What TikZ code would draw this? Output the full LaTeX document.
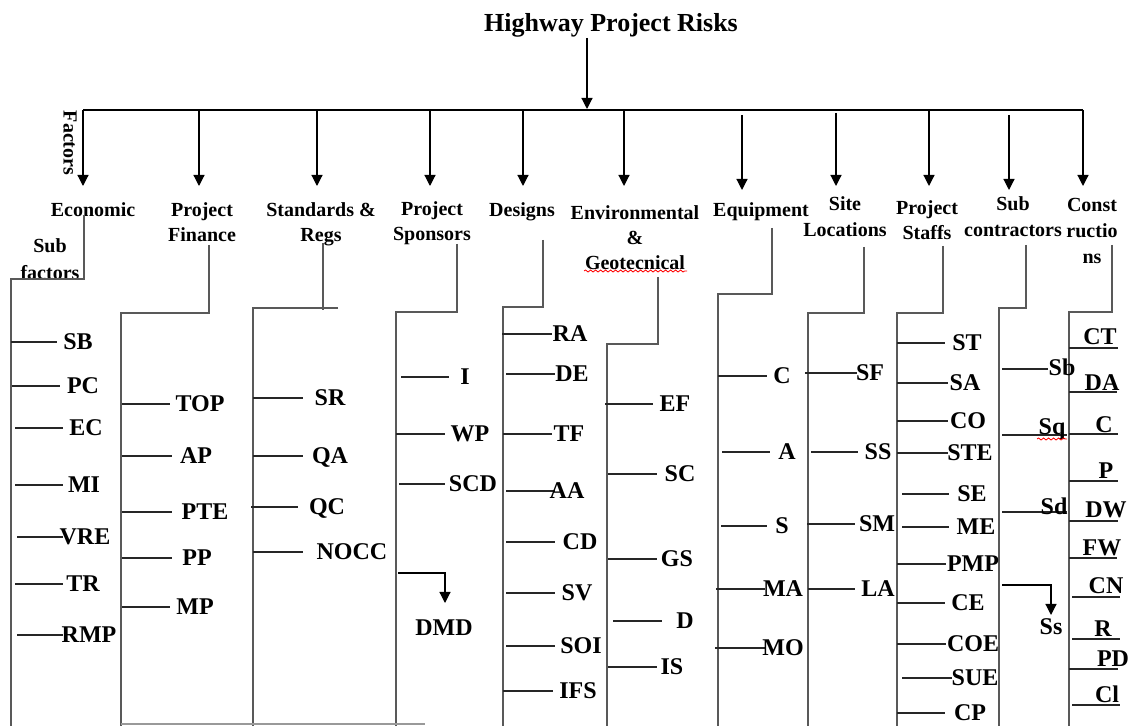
\documentclass[tikz,border=0pt]{standalone}
\usepackage{fontspec}
\setmainfont{Liberation Serif}
\usetikzlibrary{arrows.meta,decorations.pathmorphing}

\begin{document}
\begin{tikzpicture}[x=0.5pt,y=-0.5pt,line width=0.6pt,>={Triangle[width=5.5pt,length=5.5pt]},
  ttl/.style={font=\fontsize{13}{15}\selectfont\bfseries,inner sep=0pt,text height=8.6pt,text depth=0pt},
  fac/.style={font=\fontsize{10}{12.5}\selectfont\bfseries,align=center,anchor=north,inner sep=0pt},
  itm/.style={font=\fontsize{12}{14}\selectfont\bfseries,inner sep=0pt,text height=7.9pt,text depth=0pt},
  trunk/.style={draw=black!65,line width=0.7pt},
  stub/.style={draw=black!85},
  wavy/.style={red,line width=0.4pt,decorate,decoration={snake,amplitude=0.5pt,segment length=2.5pt}}]
  \useasboundingbox (0,0) rectangle (1131,726);
  % titulo y barra de factores
  \node[ttl] (hpr) at (611,23) {Highway Project Risks};
  \draw[->] (587,38) -- (587,109);
  \draw (83,110) -- (1083,110);
  \foreach \x/\ya/\yb in {83/110/186,199/110/186,317/110/186,430/110/186,523/110/186,624/110/186,
      742/115/190,836/113/186,929/110/186,1009/115/190,1083/110/186}
    \draw[->] (\x,\ya) -- (\x,\yb);
  \node[fac,anchor=center,rotate=-90] (fct) at (70,143) {Factors};
  % factores
  \node[fac] (eco) at (93,202.5) {Economic};
  \node[fac,font=\fontsize{10}{13.5}\selectfont\bfseries] (sub) at (50,238.5) {Sub\\factors};
  \node[fac] (fin) at (202,202.5) {Project\\Finance};
  \node[fac] (std) at (321,202.5) {Standards \&\\Regs};
  \node[fac] (spo) at (432,201.5) {Project\\Sponsors};
  \node[fac] (dsg) at (522,202.5) {Designs};
  \node[fac] (env) at (635,205.5) {Environmental\\\&\\Geotecnical};
  \node[fac] (eqp) at (761,202.5) {Equipment};
  \node[fac,font=\fontsize{10}{13}\selectfont\bfseries] (sit) at (845,196.5) {Site\\Locations};
  \node[fac] (stf) at (927,200.5) {Project\\Staffs};
  \node[fac,font=\fontsize{10}{13}\selectfont\bfseries] (sct) at (1013,196.5) {Sub\\contractors};
  \node[fac,font=\fontsize{10}{13}\selectfont\bfseries] (cns) at (1092,197.5) {Const\\ructio\\ns};
  \draw[wavy] (584,271) -- (687,271);
  % troncos de subfactores
  \foreach \xt/\yt/\yb/\xm in {84/215/279/11,209/245/313/121,457/244/312/396,543/240/307/503,
      658/277/344/607,772/228/294/718,864/247/313/808,943/246/313/897,1026/245/308/999,1112/245/312/1069}
    \draw[trunk] (\xt,\yt) -- (\xt,\yb) -- (\xm,\yb) -- (\xm,726);
  \draw[trunk] (323,243) -- (323,310);
  \draw[trunk] (338,308) -- (253,308) -- (253,726);
  \draw[black!40] (121,724) -- (425,724);
  % subfactores
  \foreach \p/\xa/\xb/\y/\lx/\ly/\t in {
      ec/11/57/342/78/342/SB, ec/12/60/386/83/386/PC, ec/15/63/428/86/428/EC, ec/15/63/485/84/485/MI,
      ec/17/63/537/85/537/VRE, ec/15/63/584/83/584/TR, ec/17/63/635/89/635/RMP,
      fi/122/170/404/200/404/TOP, fi/122/172/456/196/456/AP, fi/122/172/512/205/512/PTE,
      fi/122/172/558/197/558/PP, fi/122/170/607/195/607/MP,
      st/253/303/398/330/398/SR, st/253/303/456/330/456/QA, st/251/298/507/327/507/QC, st/253/303/552/352/552/NOCC,
      sp/401/449/377/465/377/I, sp/396/445/434/470/434/WP, sp/399/445/484/473/484/SCD,
      de/502/552/334/570/334/RA, de/506/555/374/572/374/DE, de/503/552/434/569/434/TF, de/506/555/491/567/491/AA,
      de/506/555/542/580/542/CD, de/506/555/593/577/593/SV, de/506/555/646/581/646/SOI, de/503/553/691/578/691/IFS,
      en/605/653/404/675/404/EF, en/608/657/474/680/474/SC, en/608/657/559/677/559/GS,
      en/613/662/621/685/621/D, en/608/657/667/672/667/IS,
      eq/718/767/376/782/376/C, eq/722/770/452/787/452/A, eq/721/767/526/782/526/S,
      eq/716/765/589/783/589/MA, eq/715/765/648/783/648/MO,
      si/805/857/373/870/373/SF, si/811/858/452/878/452/SS, si/807/855/524/877/524/SM, si/808/855/589/878/589/LA,
      sf/897/945/343/967/343/ST, sf/897/948/383/965/383/SA, sf/897/948/421/968/421/CO, sf/897/948/453/970/453/STE,
      sf/902/949/494/972/494/SE, sf/902/949/527/976/527/ME, sf/897/946/564/973/564/PMP, sf/897/945/603/968/603/CE,
      sf/897/946/644/973/644/COE, sf/902/952/678/975/678/SUE, sf/897/945/713/970/713/CP,
      sc/1002/1048/369/1062/368/Sb, sc/1002/1067/435/1052/427/Sq, sc/1002/1067/512/1054/507/Sd,
      co/1069/1118/348/1100/337/CT, co/1069/1117/392/1102/383/DA, co/1069/1118/434/1104/425/C,
      co/1069/1118/481/1106/471/P, co/1069/1118/521/1106/510/DW, co/1069/1117/558/1102/548/FW,
      co/1072/1120/597/1106/586/CN, co/1072/1120/639/1103/629/R, co/1069/1118/669/1113/659/PD,
      co/1072/1120/705/1107/695/Cl}{
    \draw[stub] (\xa,\y) -- (\xb,\y);
    \node[itm] (\p-\t) at (\lx,\ly) {\t};
  }
  \draw[wavy] (1037,439) -- (1067,439);
  % ramas con flecha
  \node[itm] (sp-DMD) at (444,628) {DMD};
  \draw[->] (398,573) -- (445,573) -- (445,603);
  \node[itm] (sc-Ss) at (1051,627) {Ss};
  \draw[->] (1002,585) -- (1051,585) -- (1051,615);
\end{tikzpicture}
\end{document}
